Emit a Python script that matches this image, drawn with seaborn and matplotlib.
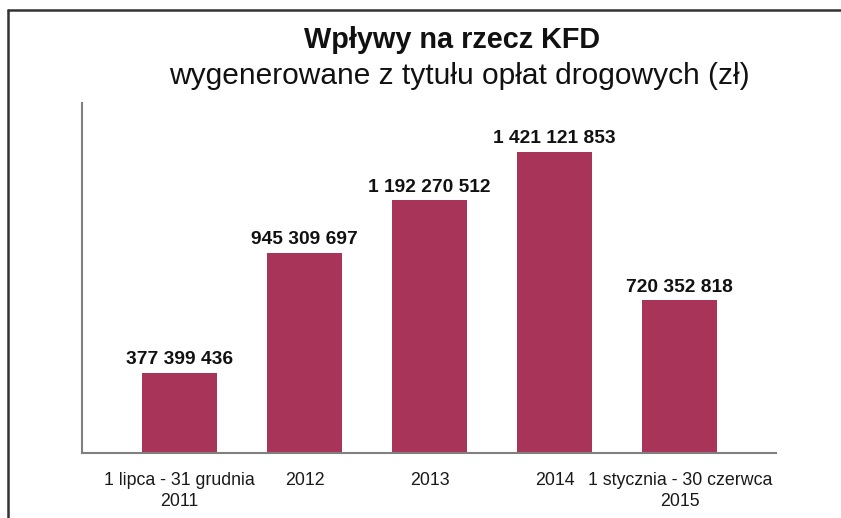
import matplotlib
matplotlib.use("Agg")
import matplotlib.pyplot as plt
import seaborn as sns
import pandas as pd
from matplotlib.lines import Line2D

categories = ["1 lipca - 31 grudnia\n2011", "2012", "2013", "2014", "1 stycznia - 30 czerwca\n2015"]
values = [377399436, 945309697, 1192270512, 1421121853, 720352818]
value_labels = ["377 399 436", "945 309 697", "1 192 270 512", "1 421 121 853", "720 352 818"]
title = "Wpływy na rzecz KFD"
subtitle = "wygenerowane z tytułu opłat drogowych (zł)"

sns.set_theme(style="white")
plt.rcParams['font.family'] = ['Liberation Sans', 'DejaVu Sans']

df = pd.DataFrame({"cat": categories, "val": values})

fig = plt.figure(figsize=(8.41, 5.18), dpi=100)
ax = fig.add_axes([82/841, 1 - 453/518, (776-82)/841, (453-103)/518])
sns.barplot(data=df, x="cat", y="val", color="#A8345A", saturation=1, width=0.6,
            linewidth=0, ax=ax)

ax.set_xlim(-0.78, 4.77)
ax.set_ylim(0, 1.652e9)
ax.set_xlabel("")
ax.set_ylabel("")
ax.set_yticks([])
ax.tick_params(axis="x", length=0, pad=14, labelsize=12.8, colors="#1a1a1a")
for lbl in ax.get_xticklabels():
    lbl.set_linespacing(1.25)
for s in ["top", "right"]:
    ax.spines[s].set_visible(False)
for s in ["left", "bottom"]:
    ax.spines[s].set_color("#808080")
    ax.spines[s].set_linewidth(1.5)

for i, (v, lab) in enumerate(zip(values, value_labels)):
    ax.annotate(lab, (i, v), xytext=(0, 3.5), textcoords="offset points",
                ha="center", va="bottom", fontsize=13.8, fontweight="bold", color="#111111")

fig.text(452/841, 1 - 40/518, title, ha="center", va="center", fontsize=20.8, fontweight="bold", color="#111111")
fig.text(459/841, 1 - 76/518, subtitle, ha="center", va="center", fontsize=21.5, color="#111111")

fig.add_artist(Line2D([8/841, 1], [1 - 9.5/518, 1 - 9.5/518], transform=fig.transFigure, color="#333333", lw=1.8))
fig.add_artist(Line2D([8/841, 8/841], [0, 1 - 9.5/518], transform=fig.transFigure, color="#333333", lw=1.8))

fig.savefig("out.png", dpi=100)
